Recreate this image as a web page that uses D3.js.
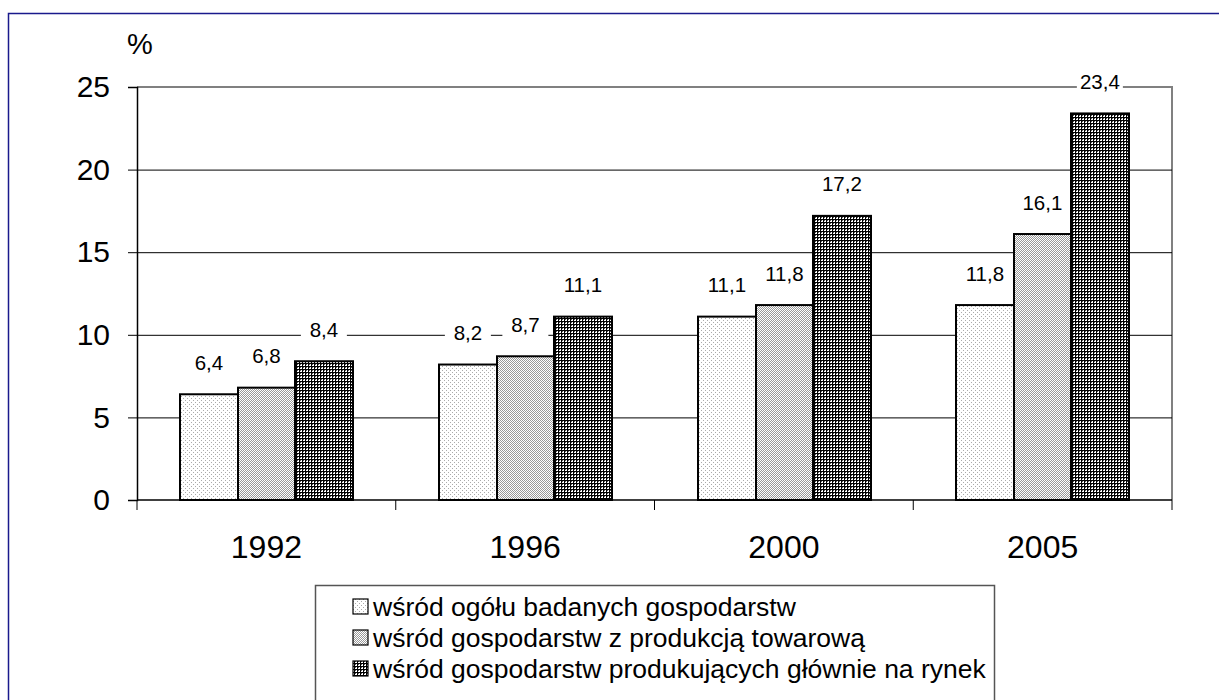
<!DOCTYPE html>
<html>
<head>
<meta charset="utf-8">
<script src="https://cdn.jsdelivr.net/npm/d3@7"></script>
<style>
  body { margin: 0; background: #fff; }
  svg { display: block; font-family: "Liberation Sans", Arial, sans-serif; }
</style>
</head>
<body>
<div id="chart"></div>
<script>
// data
const years = ["1992", "1996", "2000", "2005"];
const seriesNames = [
  "wśród ogółu badanych gospodarstw",
  "wśród gospodarstw z produkcją towarową",
  "wśród gospodarstw produkujących głównie na rynek"
];
const ogol = [6.4, 8.2, 11.1, 11.8];
const towarowe = [6.8, 8.7, 11.8, 16.1];
const rynek = [8.4, 11.1, 17.2, 23.4];
const yTicks = [0, 5, 10, 15, 20, 25];

const width = 1219;
const height = 700;
const margin = { left: 137, right: 47, top: 87, bottom: 200 };

const svg = d3.select("#chart")
  .append("svg")
  .attr("width", width)
  .attr("height", height);

// patterns
const defs = svg.append("defs");

const p1 = defs.append("pattern").attr("id", "pat0")
  .attr("width", 4).attr("height", 4).attr("patternUnits", "userSpaceOnUse");
p1.append("rect").attr("width", 4).attr("height", 4).attr("fill", "#fff");
p1.append("rect").attr("width", 1).attr("height", 1).attr("fill", "#aaa");
p1.append("rect").attr("x", 2).attr("y", 2).attr("width", 1).attr("height", 1).attr("fill", "#aaa");

const p2 = defs.append("pattern").attr("id", "pat1")
  .attr("width", 2).attr("height", 2).attr("patternUnits", "userSpaceOnUse");
p2.append("rect").attr("width", 2).attr("height", 2).attr("fill", "#fff");
p2.append("rect").attr("width", 1).attr("height", 1).attr("fill", "#999");
p2.append("rect").attr("x", 1).attr("y", 1).attr("width", 1).attr("height", 1).attr("fill", "#999");

const p3 = defs.append("pattern").attr("id", "pat2")
  .attr("width", 3).attr("height", 3).attr("patternUnits", "userSpaceOnUse");
p3.append("rect").attr("width", 3).attr("height", 3).attr("fill", "#000");
p3.append("rect").attr("x", 1).attr("y", 1).attr("width", 2).attr("height", 2).attr("fill", "#fff");
p3.append("rect").attr("x", 1).attr("y", 1).attr("width", 1).attr("height", 1).attr("fill", "#555");

// outer frame
svg.append("rect")
  .attr("x", 8.5).attr("y", 13.5)
  .attr("width", width + 20).attr("height", height + 20)
  .attr("fill", "none")
  .attr("stroke", "#1a1a8c")
  .attr("stroke-width", 1.5);

const x0 = d3.scaleBand().domain(years).range([margin.left, width - margin.right]);
const y = d3.scaleLinear().domain([0, 25]).range([height - margin.bottom, margin.top]);
const x1 = d3.scaleBand().domain([0, 1, 2])
  .range([x0.bandwidth() / 6, x0.bandwidth() * 5 / 6]);

const plotRight = width - margin.right;
const plotBottom = height - margin.bottom;

// plot area border (top/right gray)
svg.append("path")
  .attr("d", `M${margin.left},${y(25)}H${plotRight}V${plotBottom}`)
  .attr("fill", "none")
  .attr("stroke", "#808080")
  .attr("stroke-width", 2);

// gridlines
svg.append("g")
  .selectAll("line")
  .data(yTicks.filter(d => d > 0 && d < 25))
  .join("line")
  .attr("x1", margin.left).attr("x2", plotRight)
  .attr("y1", d => y(d) + 0.5).attr("y2", d => y(d) + 0.5)
  .attr("stroke", "#000")
  .attr("stroke-width", 1);

// y axis
const yAxis = svg.append("g")
  .attr("transform", `translate(${margin.left},0)`)
  .call(d3.axisLeft(y).tickValues(yTicks).tickSize(9).tickPadding(18).tickFormat(d3.format("d")));
yAxis.select(".domain").attr("stroke", "#000").attr("stroke-width", 1.5);
yAxis.selectAll(".tick line").attr("stroke", "#000");
yAxis.selectAll(".tick text").attr("font-size", 30).attr("fill", "#000")
  .attr("font-family", "Liberation Sans, Arial, sans-serif");

svg.append("text")
  .attr("x", 127).attr("y", 54)
  .attr("font-size", 29)
  .text("%");

// bars (group offsets rounded so the fill patterns stay crisp)
const data = years.map((yr, i) => ({ year: yr, values: [ogol[i], towarowe[i], rynek[i]] }));

const groups = svg.append("g")
  .selectAll("g")
  .data(data)
  .join("g")
  .attr("transform", d => `translate(${Math.round(x0(d.year))},0)`);

groups.selectAll("rect")
  .data(d => d.values.map((v, k) => ({ k, v })))
  .join("rect")
  .attr("x", d => Math.round(x1(d.k)))
  .attr("y", d => y(d.v))
  .attr("width", d => Math.round(x1(d.k) + x1.bandwidth()) - Math.round(x1(d.k)))
  .attr("height", d => y(0) - y(d.v))
  .attr("fill", d => `url(#pat${d.k})`)
  .attr("stroke", "#000")
  .attr("stroke-width", 2);

// x axis
const xTicks = years.map(yr => x0(yr)).concat([plotRight]);
svg.append("line")
  .attr("x1", margin.left).attr("x2", plotRight)
  .attr("y1", plotBottom).attr("y2", plotBottom)
  .attr("stroke", "#000").attr("stroke-width", 1.5);
svg.append("g").selectAll("line")
  .data(xTicks)
  .join("line")
  .attr("x1", d => d).attr("x2", d => d)
  .attr("y1", plotBottom).attr("y2", plotBottom + 10)
  .attr("stroke", "#000");
svg.append("g").selectAll("text")
  .data(years)
  .join("text")
  .attr("x", d => x0(d) + x0.bandwidth() / 2)
  .attr("y", plotBottom + 58)
  .attr("text-anchor", "middle")
  .attr("font-size", 32)
  .text(d => d);

// value labels with white background
const fmt = v => d3.format(".1f")(v).replace(".", ",");
const labels = groups.selectAll("g.lab")
  .data(d => d.values.map((v, k) => ({ k, v })))
  .join("g")
  .attr("class", "lab")
  .attr("transform", d => `translate(${x1(d.k) + x1.bandwidth() / 2},${y(d.v) - 32})`);
labels.append("rect")
  .attr("x", -23).attr("y", -12)
  .attr("width", 46).attr("height", 24)
  .attr("fill", "#fff");
labels.append("text")
  .attr("text-anchor", "middle")
  .attr("y", 7.5)
  .attr("font-size", 20.5)
  .text(d => fmt(d.v));

// legend, centred under the plot area
const legendW = 679;
const legend = svg.append("g")
  .attr("transform", `translate(${Math.round((margin.left + plotRight - legendW) / 2)},585)`);
legend.append("rect")
  .attr("x", 0.5).attr("y", 0.5)
  .attr("width", legendW).attr("height", 140)
  .attr("fill", "#fff")
  .attr("stroke", "#555")
  .attr("stroke-width", 1.5);
const items = legend.selectAll("g.item")
  .data(seriesNames)
  .join("g")
  .attr("class", "item")
  .attr("transform", (d, i) => `translate(0,${22 + i * 31})`);
items.append("rect")
  .attr("x", 38).attr("y", -8)
  .attr("width", 15).attr("height", 15)
  .attr("fill", (d, i) => `url(#pat${i})`)
  .attr("stroke", "#000")
  .attr("stroke-width", 1.2);
items.append("text")
  .attr("x", 58).attr("y", 9)
  .attr("font-size", 26.5)
  .text(d => d);
</script>
</body>
</html>
